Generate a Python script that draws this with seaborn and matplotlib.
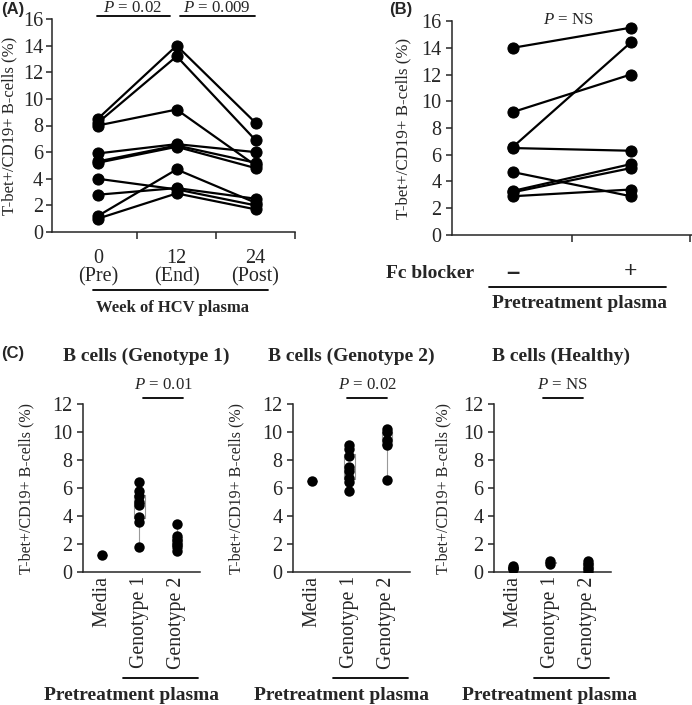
import numpy as np
import pandas as pd
import seaborn as sns
import matplotlib.pyplot as plt
from matplotlib.lines import Line2D

# Panel A: paired samples over the treatment weeks
weeks = ['0\n(Pre)', '12\n(End)', '24\n(Post)']
week0 = [8.5, 8.2, 8.0, 5.9, 5.3, 5.2, 4.0, 2.8, 1.2, 1.0]
week12 = [14.0, 13.2, 9.2, 6.6, 6.5, 6.4, 3.2, 3.3, 4.7, 2.9]
week24 = [8.2, 6.9, 5.0, 6.0, 5.2, 4.8, 2.0, 2.5, 2.2, 1.7]

# Panel B: with / without Fc blocker
fc_labels = ['\u2013', '+']
fc_minus = [14.0, 9.2, 6.6, 6.5, 4.7, 3.3, 3.2, 2.9]
fc_plus = [15.5, 12.0, 14.4, 6.3, 2.9, 5.3, 5.0, 3.4]

# Panel C: B cells stimulated with plasma
groups = ['Media', 'Genotype 1', 'Genotype 2']
g1_media = [1.2]
g1_geno1 = [6.4, 5.8, 5.4, 5.0, 4.8, 3.9, 3.6, 1.8]
g1_geno2 = [3.4, 2.6, 2.3, 2.0, 1.8, 1.5]
g2_media = [6.5]
g2_geno1 = [9.1, 8.8, 8.3, 7.5, 7.2, 6.7, 6.4, 5.8]
g2_geno2 = [10.2, 10.0, 9.4, 9.1, 6.6]
h_media = [0.4, 0.3, 0.2]
h_geno1 = [0.8, 0.6]
h_geno2 = [0.8, 0.6, 0.3, 0.1]

sns.set_style('ticks')
plt.rcParams['font.family'] = ['Liberation Serif', 'DejaVu Serif']
plt.rcParams['mathtext.fontset'] = 'custom'
plt.rcParams['mathtext.rm'] = 'Liberation Serif'
plt.rcParams['mathtext.it'] = 'Liberation Serif:italic'
plt.rcParams['axes.linewidth'] = 1.1

W, H = 692, 705
fig = plt.figure(figsize=(W / 100, H / 100), dpi=100)


def box(l, t, r, b):
    return [l / W, 1 - b / H, (r - l) / W, (b - t) / H]


def txt(x, y, s, **kw):
    fig.text(x / W, 1 - y / H, s, **kw)


def hline(x0, x1, y, lw=1.3):
    fig.add_artist(Line2D([x0 / W, x1 / W], [1 - y / H, 1 - y / H], color='black', lw=lw,
                          transform=fig.transFigure))


ylab = 'T-bet+/CD19+ B-cells (%)'
TICK = 14.5

# ---- (A)
axA = fig.add_axes(box(52, 19, 295, 232))
n = len(week0)
dfA = pd.DataFrame({'subject': np.tile(np.arange(n), 3),
                    'pos': np.repeat(np.arange(3), n),
                    'value': week0 + week12 + week24})
sns.lineplot(data=dfA, x='pos', y='value', units='subject', estimator=None, color='black',
             lw=1.6, marker='o', markersize=8, markeredgecolor='black', ax=axA, legend=False)
axA.set_xlim(-0.58, 2.5)
axA.set_ylim(0, 16)
axA.set_yticks(range(0, 17, 2))
axA.set_xticks([0, 1, 2])
axA.set_xticklabels(weeks, fontsize=TICK, linespacing=0.95)
axA.set_xticks([0.5, 1.5, 2.5], minor=True)
axA.tick_params(axis='x', which='major', length=0, pad=12)
axA.tick_params(axis='x', which='minor', length=5, width=1.1, direction='out')
axA.tick_params(axis='y', length=4, width=1.1, labelsize=TICK, pad=2.5)
axA.set_xlabel('')
axA.set_ylabel(ylab, fontsize=12)
axA.yaxis.set_label_coords(-0.142, 0.5)
sns.despine(ax=axA)

txt(1, 2, '(A)', family='Liberation Sans', weight='bold', fontsize=12, va='top')
txt(132, 8, r'$P$ = 0.02', fontsize=12.2, ha='center', va='center')
txt(217, 8, r'$P$ = 0.009', fontsize=12.2, ha='center', va='center')
hline(97, 170, 16)
hline(180, 255, 16)
hline(93, 268, 290)
txt(172, 308, 'Week of HCV plasma', fontsize=12, weight='bold', ha='center', va='center')

# ---- (B)
axB = fig.add_axes(box(452, 21, 692, 235))
m = len(fc_minus)
dfB = pd.DataFrame({'subject': np.tile(np.arange(m), 2),
                    'pos': np.repeat(np.arange(2), m),
                    'value': fc_minus + fc_plus})
sns.lineplot(data=dfB, x='pos', y='value', units='subject', estimator=None, color='black',
             lw=1.6, marker='o', markersize=8, markeredgecolor='black', ax=axB, legend=False)
axB.set_xlim(-0.52, 1.52)
axB.set_ylim(0, 16)
axB.set_yticks(range(0, 17, 2))
axB.set_xticks([0, 1])
axB.set_xticklabels(fc_labels, fontsize=17, weight='bold')
axB.get_xticklabels()[0].set_family('Liberation Sans')
axB.set_xticks([0.5, 1.5], minor=True)
axB.tick_params(axis='x', which='major', length=0, pad=19)
axB.tick_params(axis='x', which='minor', length=5, width=1.1, direction='out')
axB.tick_params(axis='y', length=4, width=1.1, labelsize=TICK)
axB.set_xlabel('')
axB.set_ylabel(ylab, fontsize=12.2)
axB.yaxis.set_label_coords(-0.171, 0.5)
sns.despine(ax=axB)

txt(389, 2, '(B)', family='Liberation Sans', weight='bold', fontsize=12, va='top')
txt(568, 20, r'$P$ = NS', fontsize=12.2, ha='center', va='center')
txt(430, 273, 'Fc blocker', fontsize=14, weight='bold', ha='center', va='center')
hline(489, 666, 287)
txt(580, 304, 'Pretreatment plasma', fontsize=14, weight='bold', ha='center', va='center')

# ---- (C)
txt(1, 346, '(C)', family='Liberation Sans', weight='bold', fontsize=12, va='top')


def strip_panel(left, media, geno1, geno2, title, title_x, ptext, p_x, bar, lab_x, foot_x):
    ax = fig.add_axes(box(left, 404, left + 117, 572))
    df = pd.DataFrame({'group': [groups[0]] * len(media) + [groups[1]] * len(geno1)
                       + [groups[2]] * len(geno2),
                       'value': media + geno1 + geno2})
    sns.boxplot(data=df, x='group', y='value', order=groups, fill=False, color='0.6',
                linewidth=0.8, width=0.28, whis=(0, 100), ax=ax)
    sns.stripplot(data=df, x='group', y='value', order=groups, jitter=False, color='black',
                  size=7.5, ax=ax)
    ax.set_xlim(-0.5, 2.62)
    ax.set_ylim(0, 12)
    ax.set_yticks(range(0, 13, 2))
    ax.set_xticks(range(3))
    ax.set_xticklabels(groups, rotation=90, fontsize=14.3)
    ax.tick_params(axis='x', length=0, pad=3)
    ax.tick_params(axis='y', length=4, width=1.1, labelsize=TICK)
    ax.set_xlabel('')
    ax.set_ylabel(ylab, fontsize=11.5)
    ax.yaxis.set_label_coords(lab_x, 0.5)
    sns.despine(ax=ax)
    c = left + 19
    sp = 37.5
    txt(title_x, 356, title, fontsize=14, weight='bold', ha='center', va='center')
    txt(p_x, 385, ptext, fontsize=12.2, ha='center', va='center')
    hline(bar[0], bar[1], 398)
    hline(c + 0.55 * sp, c + 2.55 * sp, 678)
    txt(foot_x, 695, 'Pretreatment plasma', fontsize=14, weight='bold', ha='center',
        va='center')
    return ax


strip_panel(83, g1_media, g1_geno1, g1_geno2, 'B cells (Genotype 1)', 146, r'$P$ = 0.01',
            163, (143, 183), -0.419, 132)
strip_panel(293, g2_media, g2_geno1, g2_geno2, 'B cells (Genotype 2)', 351, r'$P$ = 0.02',
            367, (347, 387), -0.419, 341)
strip_panel(494, h_media, h_geno1, h_geno2, 'B cells (Healthy)', 561, r'$P$ = NS',
            562, (543, 583), -0.368, 550)

fig.savefig('out.png', dpi=100)
